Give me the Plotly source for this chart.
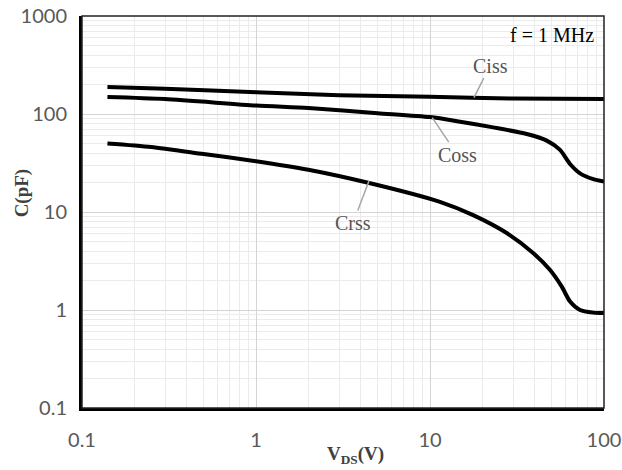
import math
import plotly.graph_objects as go

# Data
ciss_v = [0.14, 0.3, 1, 3, 10, 30, 100]
ciss_c = [189, 181, 167, 155, 150, 144, 142]

coss_v = [0.14, 0.3, 1, 2, 5, 10, 14.9, 23.1, 36, 46.9, 55.9, 63.8, 72.8, 86.8, 100]
coss_c = [149, 142, 122, 115, 102, 93, 83.4, 73, 62.5, 53.5, 43, 30.9, 24.8, 21.6, 20.4]

crss_v = [0.14, 0.25, 0.5, 1, 2, 4.35, 11.4, 17.7, 27.6, 39.3, 49, 57.2, 63.8, 72.8, 86.8, 100]
crss_c = [50, 46, 39, 33, 27, 20, 12.7, 9.3, 6.1, 3.79, 2.56, 1.73, 1.22, 1.0, 0.94, 0.93]

x_ticks = [0.1, 1, 10, 100]
x_ticklabels = ["0.1", "1", "10", "100"]
y_ticks = [0.1, 1, 10, 100, 1000]
y_ticklabels = ["0.1", "1", "10", "100", "1000"]

labels = [
    # text, tip x, tip y, ax, ay
    ("Ciss", 17.9, 147, 16, -32),
    ("Coss", 10.3, 92, 25, 37),
    ("Crss", 4.46, 20.7, -16, 42),
]

minor_x = [m * 10 ** e for e in range(-1, 2) for m in range(2, 10)]
minor_y = [m * 10 ** e for e in range(-1, 3) for m in range(2, 10)]

fig = go.Figure()
for xs, ys in [(ciss_v, ciss_c), (coss_v, coss_c), (crss_v, crss_c)]:
    fig.add_trace(go.Scatter(x=xs, y=ys, mode="lines",
                             line=dict(color="black", width=4, shape="spline", smoothing=0.7),
                             showlegend=False, hoverinfo="skip"))

tickfont = dict(family="Lato, Open Sans, sans-serif", size=20, color="#595959")

fig.update_xaxes(type="log", range=[-1, 2], tickvals=x_ticks, ticktext=x_ticklabels,
                 showgrid=True, gridcolor="#d4d4d4", gridwidth=1,
                 minor=dict(tickmode="array", tickvals=minor_x, showgrid=True,
                            gridcolor="#ebebeb", gridwidth=1, ticklen=0),
                 showline=True, linecolor="black", linewidth=3,
                 ticks="outside", ticklen=0, tickfont=tickfont, ticklabelstandoff=12,
                 zeroline=False, automargin=False)
fig.update_yaxes(type="log", range=[-1, 3], tickvals=y_ticks, ticktext=y_ticklabels,
                 showgrid=True, gridcolor="#d4d4d4", gridwidth=1,
                 minor=dict(tickmode="array", tickvals=minor_y, showgrid=True,
                            gridcolor="#ebebeb", gridwidth=1, ticklen=0),
                 showline=True, linecolor="black", linewidth=3,
                 ticks="outside", ticklen=0, tickfont=tickfont, ticklabelstandoff=8,
                 zeroline=False, automargin=False)

# thin frame on top/right
fig.add_shape(type="rect", xref="paper", yref="paper", x0=0, y0=0, x1=1, y1=1,
              line=dict(color="#222222", width=1.5), layer="above")

serif = "Liberation Serif, Times New Roman, serif"
for text, tx, ty, ax, ay in labels:
    fig.add_annotation(x=math.log10(tx), y=math.log10(ty), xref="x", yref="y",
                       text=text, showarrow=True, arrowhead=0, arrowwidth=1.5,
                       arrowcolor="#a6a6a6", ax=ax, ay=ay, standoff=0,
                       font=dict(family=serif, size=20, color="#555555"))
fig.add_annotation(x=0.985, y=0.985, xref="paper", yref="paper", xanchor="right", yanchor="top",
                   text="f = 1 MHz", showarrow=False,
                   font=dict(family=serif, size=20, color="black"))

fig.add_annotation(x=0.523, y=-0.12, xref="paper", yref="paper", xanchor="center", yanchor="middle",
                   text="<b>V<sub>DS</sub>(V)</b>", showarrow=False,
                   font=dict(family=serif, size=19, color="#404040"))
fig.add_annotation(x=-0.115, y=0.55, xref="paper", yref="paper", xanchor="center", yanchor="middle",
                   textangle=-90, text="<b>C(pF)</b>", showarrow=False,
                   font=dict(family=serif, size=19, color="#404040"))

fig.update_layout(width=622, height=470, margin=dict(l=82, r=18, t=16, b=62),
                  paper_bgcolor="white", plot_bgcolor="white")

fig.write_html("out.html", config={"displayModeBar": False},
               post_script="document.body.style.margin='0';document.body.style.padding='0';")
